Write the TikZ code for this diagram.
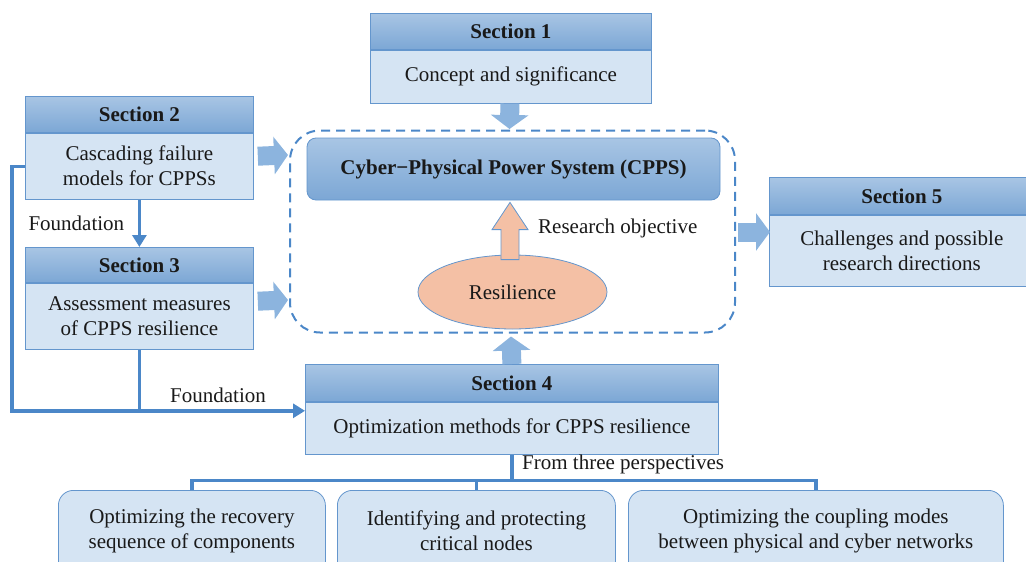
\documentclass[tikz,border=0pt]{standalone}
\usepackage{fontspec}
\setmainfont{Liberation Serif}
\usetikzlibrary{arrows.meta,calc,shapes.geometric}
\definecolor{hdtop}{RGB}{168,197,228}
\definecolor{hdbot}{RGB}{124,167,213}
\definecolor{bodyc}{RGB}{213,228,243}
\definecolor{bordc}{RGB}{100,150,205}
\definecolor{linec}{RGB}{75,135,200}
\definecolor{arrc}{RGB}{140,180,222}
\definecolor{orangec}{RGB}{244,192,165}
\definecolor{txtc}{RGB}{25,25,25}
\tikzset{
  hdr/.style={rectangle, draw=bordc, line width=0.8pt, top color=hdtop, bottom color=hdbot,
    anchor=north west, minimum height=36pt, inner sep=0pt, text=txtc,
    font=\fontsize{21}{25}\selectfont\bfseries},
  bodybox/.style={rectangle, draw=bordc, line width=0.8pt, fill=bodyc, anchor=north west,
    inner sep=0pt, align=center, text=txtc, font=\fontsize{21}{25}\selectfont},
  leaf/.style={rectangle, rounded corners=15pt, draw=bordc, line width=0.8pt, fill=bodyc,
    anchor=north west, inner sep=0pt, align=center, text=txtc,
    font=\fontsize{21}{25}\selectfont, text depth=0pt},
  conn/.style={draw=linec, line width=3.4pt},
  tip/.style={-{Triangle[width=14pt,length=12pt]}},
  blk/.style={draw=arrc, line width=19pt, -{Triangle[width=37pt,length=14pt]}, shorten >=-1pt},
  lbl/.style={text=txtc, font=\fontsize{21}{25}\selectfont, inner sep=0pt},
}
\begin{document}
\begin{tikzpicture}[x=1pt,y=-1pt]
\useasboundingbox (0,0) rectangle (1026,562);
% dashed container
\node[draw=linec, line width=2pt, dash pattern=on 9pt off 6pt, rounded corners=30pt,
  minimum width=445pt, minimum height=202pt, inner sep=0pt] (dash) at (512.5,231.5) {};
% CPPS
\node[rectangle, rounded corners=9pt, draw=bordc, line width=0.8pt, top color=hdtop, bottom color=hdbot,
  minimum width=413pt, minimum height=62pt, inner sep=0pt, text=txtc,
  font=\fontsize{21}{25}\selectfont\bfseries] (cpps) at (513.5,169) {Cyber\textminus Physical Power System (CPPS)};
% Resilience
\node[ellipse, draw=bordc, line width=0.8pt, fill=orangec, minimum width=189pt, minimum height=74pt,
  inner sep=0pt, text=txtc, font=\fontsize{21}{25}\selectfont] (res) at (512.5,292) {Resilience};
\coordinate (ob) at ($(res.north)+(-2.5,5)$);
\draw[draw=bordc, line width=0.8pt, fill=orangec]
  ($(ob)+(-9,0)$) -- ($(ob)+(-9,-30)$) -- ($(ob)+(-18,-30)$) -- ($(cpps.south)+(-3.5,2)$)
  -- ($(ob)+(18,-30)$) -- ($(ob)+(9,-30)$) -- ($(ob)+(9,0)$) -- cycle;
\node[lbl, anchor=west] (ro) at (538,228) {Research objective};
% Section 1
\node[hdr, minimum width=281pt] (s1h) at (370,13) {Section 1};
\node[bodybox, minimum width=281pt, minimum height=53pt] (s1b) at (s1h.south west) {Concept and significance};
% Section 2
\node[hdr, minimum width=228pt] (s2h) at (25,96) {Section 2};
\node[bodybox, minimum width=228pt, minimum height=66pt] (s2b) at (s2h.south west) {Cascading failure\\models for CPPSs};
% Section 3
\node[hdr, minimum width=228pt, minimum height=35pt] (s3h) at (25,247) {Section 3};
\node[bodybox, minimum width=228pt, minimum height=66pt] (s3b) at (s3h.south west) {Assessment measures\\of CPPS resilience};
% Section 4
\node[hdr, minimum width=413pt, minimum height=37pt] (s4h) at (305,364) {Section 4};
\node[bodybox, minimum width=413pt, minimum height=52pt] (s4b) at (s4h.south west) {Optimization methods for CPPS resilience};
% Section 5
\node[hdr, minimum width=265pt, minimum height=37pt] (s5h) at (769,177) {Section 5};
\node[bodybox, minimum width=265pt, minimum height=71pt] (s5b) at (s5h.south west) {Challenges and possible\\research directions};
% leaves
\node[leaf, minimum width=267pt, minimum height=95pt] (b1) at (58,490) {};
\node[lbl, align=center] (b1t) at ($(b1.north)+(0,41)$) {Optimizing the recovery\\sequence of components};
\node[leaf, minimum width=278pt, minimum height=95pt] (b2) at (337,490) {};
\node[lbl, align=center] (b2t) at ($(b2.north)+(0,41)$) {Identifying and protecting\\critical nodes};
\node[leaf, minimum width=375pt, minimum height=95pt] (b3) at (628,490) {};
\node[lbl, align=center] (b3t) at ($(b3.north)+(0,41)$) {Optimizing the coupling modes\\between physical and cyber networks};
% block arrows
\draw[blk] ($(s1b.south)+(-1,0)$) -- ($(dash.north |- 0,128)+(-3,0)$);
\draw[blk] ($(s4h.north)+(0,0)$) -- ($(dash.south)+(-1.5,4)$);
\draw[blk] ($(s2b.east)+(4,-10)$) -- ($(dash.west |- 0,155)+(-2,0)$);
\draw[blk] ($(s3b.east)+(4,-15)$) -- ($(dash.west |- 0,300)+(-2,0)$);
\draw[blk] ($(dash.east |- 0,232)+(2,0)$) -- ($(s5b.west |- 0,232)+(0,0)$);
% connectors
\coordinate (f4) at ($(s4b.north west)+(0,9)$);
\draw[conn, tip] (s2b.south) -- (s3h.north);
\draw[conn, tip] ($(s2b.west)+(0,0)$) -- ++(-13,0) |- (f4);
\draw[conn] (s3b.south) -- (s3b.south |- f4);
\node[lbl, anchor=east] (fd1) at ($(s2b.south)!0.5!(s3h.north)+(-15,0)$) {Foundation};
\node[lbl] (fd2) at (218,395) {Foundation};
% tree
\coordinate (j) at ($(s4b.south)+(0,26)$);
\draw[conn] (s4b.south) -- (j);
\draw[conn] (b1.north) -- (b1.north |- j) -- (b3.north |- j) -- (b3.north);
\draw[conn] (b2.north) -- (b2.north |- j);
\node[lbl, anchor=west] (ftp) at (522,464) {From three perspectives};
\end{tikzpicture}
\end{document}
